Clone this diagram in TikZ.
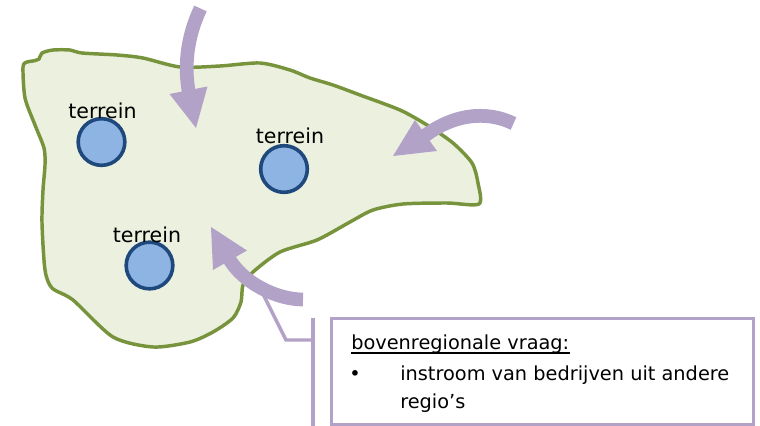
\documentclass[tikz,border=0pt]{standalone}
\usepackage{fontspec}
\setmainfont{DejaVu Sans}
\definecolor{blobfill}{HTML}{EBF1DE}
\definecolor{blobline}{HTML}{77933C}
\definecolor{terfill}{HTML}{8EB4E3}
\definecolor{terline}{HTML}{1F497D}
\definecolor{lav}{HTML}{B3A2C7}
\tikzset{
  terreinc/.style={circle, draw=terline, fill=terfill, line width=2.7pt, minimum size=35pt, inner sep=0pt},
  lbl/.style={inner sep=0pt, anchor=base, font=\fontsize{15.4}{18}\selectfont},
  shaft/.style={draw=lav, line width=10.3pt},
  head/.style={fill=lav},
  boxtext/.style={inner sep=0pt, anchor=base west, font=\fontsize{14.5}{17}\selectfont},
  leader/.style={draw=lav, line width=2.6pt, line join=miter},
}
\begin{document}
\begin{tikzpicture}[x=0.75pt,y=-0.75pt]
\useasboundingbox (0,0) rectangle (760,425);
% region outline
\draw[blobline, fill=blobfill, line width=2.6pt, line join=round]
  plot[smooth cycle, tension=0.45] coordinates {
  (23,67) (27,62) (33,61) (39,59) (42,53) (53,50) (70,50) (82,53) (117,55) (143,58)
  (180,67) (220,66) (260,63) (290,70) (310,78) (333,85) (360,95) (400,110) (427,125)
  (453,143) (472,163) (478,183) (479,204) (447,203) (403,204) (373,210) (350,222)
  (317,240) (280,252) (253,272) (243,285) (241,302) (233,318) (213,332) (190,342)
  (153,347) (113,337) (73,300) (52,288) (45,270) (42,223) (43,190) (45,165) (44,148)
  (35,125) (25,98) };
% terrains
\node[terreinc] (t1) at (101.5,142) {};
\node[terreinc] (t2) at (284,169) {};
\node[terreinc] (t3) at (149.5,265.5) {};
\node[lbl] (l1) at (102.5,118) {terrein};
\node[lbl] (l2) at (290,143) {terrein};
\node[lbl] (l3) at (147,242) {terrein};
% leader and text box
\coordinate (ldtop) at (313,318);
\coordinate (ldbot) at (313,428);
\coordinate (ldmid) at (313,340);
\coordinate (ldknee) at (286,340);
\coordinate (ldend) at (262,292);
\draw[leader] (ldtop) -- (ldbot);
\draw[leader] (ldmid) -- (ldknee) -- (ldend);
\node[draw=lav, line width=2.6pt, fill=white, inner sep=0pt, anchor=north west,
      minimum width=316.5pt, minimum height=79.5pt] (box) at (330,317) {};
\node[boxtext] (hd) at (351,349) {bovenregionale vraag:};
\draw[line width=1.1pt] ([yshift=-3pt]hd.base west) -- ([yshift=-3pt]hd.base east);
\node[inner sep=0pt, anchor=base, font=\fontsize{14.5}{17}\selectfont] (bul) at (355,380) {•};
\node[boxtext] (it1) at (400,380) {instroom van bedrijven uit andere};
\node[boxtext] (it2) at (400,408) {regio’s};
% arrow 1 (top)
\coordinate (a1s) at (200.5,8.5);
\coordinate (a1e) at (189.5,96);
\draw[shaft] (a1s) .. controls (186,39) and (184,69) .. (a1e);
\coordinate (a1l) at (169.5,94);
\coordinate (a1r) at (207.5,86.5);
\coordinate (a1t) at (196,128);
\fill[head] (a1l) -- (a1r) -- (a1t) -- cycle;
% arrow 2 (right)
\coordinate (a2s) at (513.5,123.5);
\coordinate (a2e) at (422,138);
\draw[shaft] (a2s) .. controls (486,110) and (452,114) .. (a2e);
\coordinate (a2l) at (415,120);
\coordinate (a2r) at (437,151);
\coordinate (a2t) at (393,156);
\fill[head] (a2l) -- (a2r) -- (a2t) -- cycle;
% arrow 3 (bottom)
\coordinate (a3s) at (303,299.5);
\coordinate (a3e) at (228,257);
\draw[shaft] (a3s) .. controls (278,299.5) and (243,284) .. (a3e);
\coordinate (a3l) at (247,250.5);
\coordinate (a3r) at (213,270);
\coordinate (a3t) at (211,227);
\fill[head] (a3l) -- (a3r) -- (a3t) -- cycle;
\end{tikzpicture}
\end{document}
